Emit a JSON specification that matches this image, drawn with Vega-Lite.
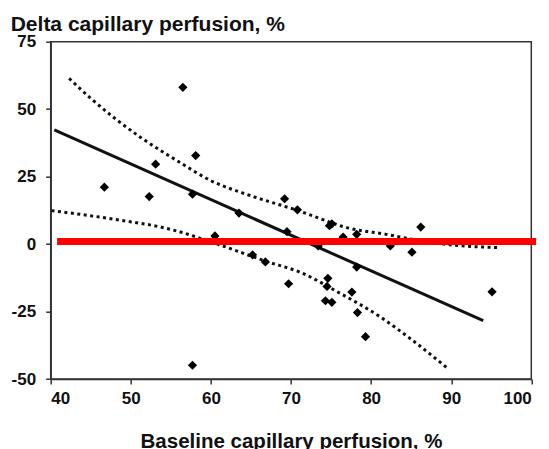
{
  "$schema": "https://vega.github.io/schema/vega-lite/v6.json",
  "width": 480.6,
  "height": 337.3,
  "autosize": {"type": "none"},
  "padding": {"left": 50.7, "top": 41.7, "right": 17.7, "bottom": 70},
  "background": "white",
  "title": {
    "text": "Delta capillary perfusion, %",
    "anchor": "start",
    "frame": "group",
    "dx": -40,
    "dy": 23,
    "offset": 4,
    "baseline": "alphabetic",
    "font": "Liberation Sans",
    "fontSize": 21,
    "fontWeight": "bold",
    "color": "#111"
  },
  "config": {
    "view": {"stroke": "#333", "strokeWidth": 1.5},
    "axis": {
      "grid": false,
      "domainColor": "#333",
      "domainWidth": 1.5,
      "tickColor": "#333",
      "tickWidth": 1.5,
      "tickSize": 5,
      "labelFont": "Liberation Sans",
      "labelFontSize": 17,
      "labelFontWeight": "bold",
      "labelColor": "#111",
      "labelExpr": "'' + datum.value",
      "titleFont": "Liberation Sans",
      "titleFontSize": 20.5,
      "titleFontWeight": "bold",
      "titleColor": "#111"
    }
  },
  "datasets": {
    "pts": [
      {"x": 46.7, "y": 21.1}, {"x": 52.3, "y": 17.6}, {"x": 53.1, "y": 29.6},
      {"x": 56.5, "y": 58.1}, {"x": 57.7, "y": 18.5}, {"x": 58.1, "y": 32.8},
      {"x": 57.7, "y": -44.9}, {"x": 60.5, "y": 3.0}, {"x": 63.5, "y": 11.5},
      {"x": 65.2, "y": -4.0}, {"x": 66.8, "y": -6.6}, {"x": 69.2, "y": 16.8},
      {"x": 69.5, "y": 4.6}, {"x": 69.7, "y": -14.7}, {"x": 70.8, "y": 12.7},
      {"x": 73.4, "y": -0.7}, {"x": 74.6, "y": -12.7}, {"x": 74.5, "y": -15.7},
      {"x": 74.3, "y": -21.0}, {"x": 75.1, "y": -21.6}, {"x": 75.1, "y": 7.5},
      {"x": 74.8, "y": 6.8}, {"x": 76.5, "y": 2.6}, {"x": 78.2, "y": 3.6},
      {"x": 77.6, "y": -17.8}, {"x": 78.2, "y": -8.5}, {"x": 78.3, "y": -25.4},
      {"x": 79.3, "y": -34.3}, {"x": 82.4, "y": -0.7}, {"x": 85.1, "y": -3.0},
      {"x": 86.2, "y": 6.3}, {"x": 95.1, "y": -17.7}
    ],
    "fit": [{"x": 40.45, "y": 42.3}, {"x": 94.0, "y": -28.4}],
    "ci": [
      {"band": "upper", "x": 42.3, "y": 61.4},
      {"band": "upper", "x": 45.0, "y": 54.0},
      {"band": "upper", "x": 51.1, "y": 39.8},
      {"band": "upper", "x": 56.0, "y": 30.5},
      {"band": "upper", "x": 60.0, "y": 23.5},
      {"band": "upper", "x": 64.9, "y": 18.0},
      {"band": "upper", "x": 70.7, "y": 12.6},
      {"band": "upper", "x": 77.4, "y": 5.8},
      {"band": "upper", "x": 81.9, "y": 3.6},
      {"band": "upper", "x": 85.7, "y": 1.5},
      {"band": "upper", "x": 90.0, "y": -0.3},
      {"band": "upper", "x": 95.9, "y": -1.3},
      {"band": "lower", "x": 40.1, "y": 12.4},
      {"band": "lower", "x": 47.0, "y": 9.6},
      {"band": "lower", "x": 55.3, "y": 5.2},
      {"band": "lower", "x": 61.1, "y": -0.3},
      {"band": "lower", "x": 67.0, "y": -6.5},
      {"band": "lower", "x": 71.1, "y": -10.4},
      {"band": "lower", "x": 76.1, "y": -18.2},
      {"band": "lower", "x": 81.1, "y": -26.9},
      {"band": "lower", "x": 85.1, "y": -35.5},
      {"band": "lower", "x": 89.7, "y": -46.4}
    ],
    "red": [{"x": 40.8, "y": 1.0}, {"x": 100.6, "y": 1.0}]
  },
  "encoding": {
    "x": {
      "field": "x", "type": "quantitative",
      "scale": {"domain": [40, 100], "nice": false, "zero": false},
      "axis": {"values": [40, 50, 60, 70, 80, 90, 100], "labelPadding": 6, "title": "Baseline capillary perfusion, %", "titlePadding": 25}
    },
    "y": {
      "field": "y", "type": "quantitative",
      "scale": {"domain": [-50, 75], "nice": false, "zero": false},
      "axis": {"values": [-50, -25, 0, 25, 50, 75], "labelPadding": 10, "title": null}
    }
  },
  "layer": [
    {
      "data": {"name": "ci"},
      "mark": {"type": "line", "color": "#111", "strokeWidth": 3, "strokeDash": [3, 3.5], "interpolate": "monotone"},
      "encoding": {"detail": {"field": "band"}}
    },
    {
      "data": {"name": "fit"},
      "mark": {"type": "line", "color": "#111", "strokeWidth": 3},
      "encoding": {}
    },
    {
      "data": {"name": "pts"},
      "mark": {"type": "point", "shape": "diamond", "filled": true, "color": "#000", "opacity": 1, "size": 85},
      "encoding": {}
    },
    {
      "data": {"name": "red"},
      "mark": {"type": "line", "color": "#ff0000", "strokeWidth": 7, "clip": false},
      "encoding": {}
    }
  ]
}
